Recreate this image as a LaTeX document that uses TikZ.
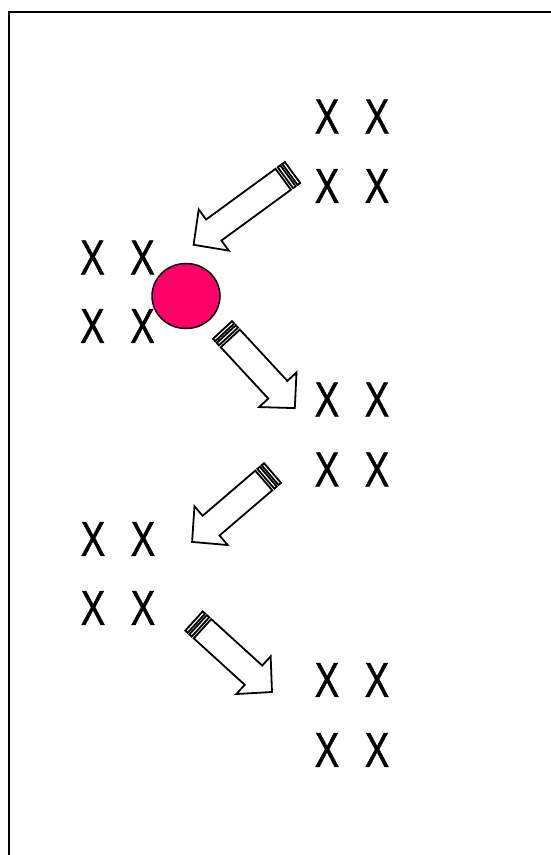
\documentclass[tikz,border=0pt]{standalone}
\usepackage{fontspec}
\usetikzlibrary{shapes.geometric,calc}
\newfontfamily\xfont[FakeStretch=0.75,FakeBold=0.8]{Liberation Sans}
\definecolor{dotpink}{RGB}{255,0,102}
\newcommand\stripedarrow[2]{%
  \draw[arrowline] let \p1=(#1), \p2=(#2),
    \n1={atan2(\y2-\y1,\x2-\x1)}, \n2={veclen(\x2-\x1,\y2-\y1)} in
    [shift={(\p1)}, rotate=\n1]
    (0,-13) rectangle (3.2,13)
    (5.6,-13) rectangle (8.8,13)
    (11.5,-13) -- ({\n2-25},-13) -- ({\n2-25},-25.5) -- (\n2,0)
    -- ({\n2-25},25.5) -- ({\n2-25},13) -- (11.5,13) -- cycle;
}
\begin{document}
\begin{tikzpicture}[x=1pt,y=-1pt,
  xx/.style={inner sep=0pt, font=\xfont\fontsize{49}{49}\selectfont},
  arrowline/.style={draw=black, fill=white, line width=1.8pt, line join=miter},
  frame/.style={draw=black, line width=2.6pt}]
\useasboundingbox (0,0) rectangle (551,855);
\fill[white] (0,0) rectangle (551,855);
\draw[frame] (9,870) -- (9,12) -- (570,12);
% text groups
\node[xx] (g1a) at (352,116.5) {X\hspace{25.5pt}X};
\node[xx] (g1b) at (352,186) {X\hspace{25.5pt}X};
\node[xx] (g2a) at (117.5,257.5) {X\hspace{25.5pt}X};
\node[xx] (g2b) at (117.5,326) {X\hspace{25.5pt}X};
\node[xx] (g3a) at (352,399.5) {X\hspace{25.5pt}X};
\node[xx] (g3b) at (352,469.5) {X\hspace{25.5pt}X};
\node[xx] (g4a) at (118,539) {X\hspace{25.5pt}X};
\node[xx] (g4b) at (118,608) {X\hspace{25.5pt}X};
\node[xx] (g5a) at (352,680) {X\hspace{25.5pt}X};
\node[xx] (g5b) at (352,750) {X\hspace{25.5pt}X};
% circle
\node[draw=black, fill=dotpink, line width=1.5pt, ellipse, minimum width=68pt, minimum height=65pt, inner sep=0pt] (dot) at (186,296) {};
% arrows
\coordinate (a1t) at (292.5,172.5);
\coordinate (a1h) at (193.3,245);
\coordinate (a2t) at (222.5,330);
\coordinate (a2h) at (295,408.3);
\coordinate (a3t) at (272.5,473);
\coordinate (a3h) at (192,542);
\coordinate (a4t) at (194,621);
\coordinate (a4h) at (272,692);
\stripedarrow{a1t}{a1h}
\stripedarrow{a2t}{a2h}
\stripedarrow{a3t}{a3h}
\stripedarrow{a4t}{a4h}
\end{tikzpicture}
\end{document}
